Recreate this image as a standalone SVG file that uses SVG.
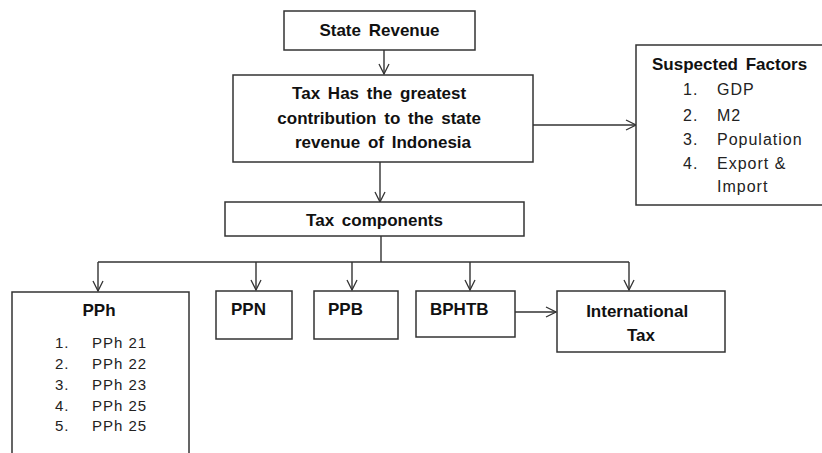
<svg xmlns="http://www.w3.org/2000/svg" width="822" height="453" viewBox="0 0 822 453">
  <style>
    .box { fill: #fff; stroke: #333; stroke-width: 1.5; }
    .line { fill: none; stroke: #333; stroke-width: 1.4; }
    .title { font-family: "Liberation Sans", Arial, sans-serif; font-weight: bold; font-size: 17px; fill: #111; word-spacing: 3px; }
    .item { font-family: "Liberation Sans", Arial, sans-serif; font-size: 16px; fill: #222; letter-spacing: 1px; }
    .small { font-size: 15px; }
  </style>
  <defs>
    <marker id="open" viewBox="0 0 12 12" refX="11" refY="6" markerWidth="12" markerHeight="12" markerUnits="userSpaceOnUse" orient="auto">
      <path d="M1,1 L11,6 L1,11" fill="none" stroke="#333" stroke-width="1.3"/>
    </marker>
  </defs>

  <rect width="822" height="453" fill="#fff"/>

  <!-- connectors -->
  <g id="connectors" class="line">
    <line x1="384" y1="50" x2="384" y2="74" marker-end="url(#open)"/>
    <line x1="533" y1="125" x2="636" y2="125" marker-end="url(#open)"/>
    <line x1="380" y1="162" x2="380" y2="202" marker-end="url(#open)"/>
    <polyline points="381,236 381,262"/>
    <polyline points="98,262 629,262"/>
    <line x1="98" y1="262" x2="98" y2="291" marker-end="url(#open)"/>
    <line x1="256" y1="262" x2="256" y2="290" marker-end="url(#open)"/>
    <line x1="352" y1="262" x2="352" y2="290" marker-end="url(#open)"/>
    <line x1="470" y1="262" x2="470" y2="290" marker-end="url(#open)"/>
    <line x1="629" y1="262" x2="629" y2="290" marker-end="url(#open)"/>
    <line x1="515" y1="312" x2="556" y2="312" marker-end="url(#open)"/>
  </g>

  <g id="state-revenue">
    <rect class="box" x="284" y="11" width="191" height="39"/>
    <text class="title" x="379.5" y="36" text-anchor="middle">State Revenue</text>
  </g>

  <g id="tax-contribution">
    <rect class="box" x="233" y="75" width="300" height="87"/>
    <text class="title" text-anchor="middle">
      <tspan x="383" y="99">Tax Has the greatest</tspan>
      <tspan x="383" y="124">contribution to the state</tspan>
      <tspan x="383" y="148">revenue of Indonesia</tspan>
    </text>
  </g>

  <g id="suspected-factors">
    <rect class="box" x="636" y="45" width="200" height="160"/>
    <text class="title" x="652" y="70">Suspected Factors</text>
    <g class="item">
      <text x="683" y="95">1.</text><text x="717" y="95">GDP</text>
      <text x="683" y="121">2.</text><text x="717" y="121">M2</text>
      <text x="683" y="145">3.</text><text x="717" y="145">Population</text>
      <text x="683" y="169">4.</text><text x="717" y="169">Export &amp;</text>
      <text x="717" y="192">Import</text>
    </g>
  </g>

  <g id="tax-components">
    <rect class="box" x="225" y="202" width="299" height="34"/>
    <text class="title" x="374.5" y="226" text-anchor="middle">Tax components</text>
  </g>

  <g id="pph">
    <rect class="box" x="12" y="292" width="177" height="180"/>
    <text class="title" x="99" y="316" text-anchor="middle">PPh</text>
    <g class="item small">
      <text x="55" y="348">1.</text><text x="92" y="348">PPh 21</text>
      <text x="55" y="369">2.</text><text x="92" y="369">PPh 22</text>
      <text x="55" y="390">3.</text><text x="92" y="390">PPh 23</text>
      <text x="55" y="411">4.</text><text x="92" y="411">PPh 25</text>
      <text x="55" y="431">5.</text><text x="92" y="431">PPh 25</text>
    </g>
  </g>

  <g id="ppn">
    <rect class="box" x="216" y="291" width="76" height="48"/>
    <text class="title" x="231" y="315">PPN</text>
  </g>

  <g id="ppb">
    <rect class="box" x="314" y="291" width="84" height="48"/>
    <text class="title" x="328" y="315">PPB</text>
  </g>

  <g id="bphtb">
    <rect class="box" x="416" y="291" width="99" height="46"/>
    <text class="title" x="430" y="315">BPHTB</text>
  </g>

  <g id="international-tax">
    <rect class="box" x="557" y="291" width="168" height="61"/>
    <text class="title" text-anchor="middle">
      <tspan x="641" y="317">International</tspan>
      <tspan x="641" y="341">Tax</tspan>
    </text>
  </g>
</svg>
